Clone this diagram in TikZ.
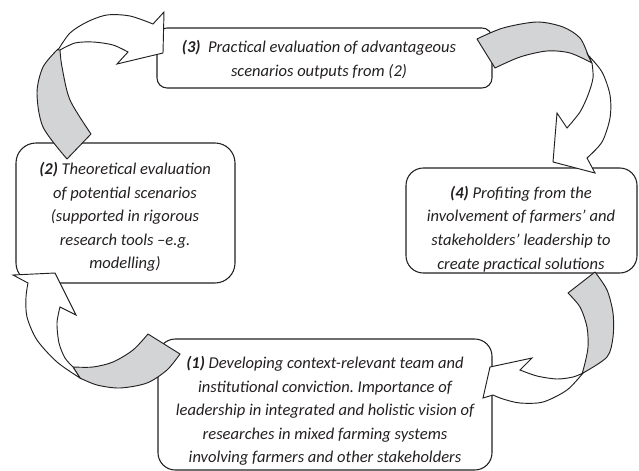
\documentclass[tikz,border=0pt]{standalone}
\usepackage{fontspec}
\setmainfont{Carlito}
\frenchspacing
\usetikzlibrary{fit}
\definecolor{inkgray}{RGB}{35,31,32}
\definecolor{bandgray}{RGB}{211,212,214}

\begin{document}
\begin{tikzpicture}[x=0.75pt, y=-0.75pt,
    stagebox/.style={draw=inkgray, line width=0.8pt, inner sep=0pt},
    stagetext/.style={text=inkgray, align=center, inner sep=0pt,
      font=\itshape\fontsize{12.4}{17.7}\selectfont},
    bandback/.style={draw=inkgray, line width=0.7pt, fill=bandgray, line join=round},
    bandfront/.style={draw=inkgray, line width=0.7pt, fill=white, line join=miter}]
		\useasboundingbox (0,0) rectangle (639,471);

		% stages
		\node[stagebox, rounded corners=7.5pt, fit={(157,28) (492,88)}] (b3) {};
		\node[stagebox, rounded corners=15pt, fit={(16,143) (235,283)}] (b2) {};
		\node[stagebox, rounded corners=13pt, fit={(406,168) (637,273)}] (b4) {};
		\node[stagebox, rounded corners=13pt, fit={(158,339) (492,470)}] (b1) {};

		\node[stagetext] (t3) at (319,60) {\textbf{(3)}\ \ Practical evaluation of advantageous\\scenarios outputs from (2)};
		\node[stagetext] (t2) at (125,217) {\textbf{(2)} Theoretical evaluation\\of potential scenarios\\(supported in rigorous\\research tools –e.g.\\modelling)};
		\node[stagetext] (t4) at (521,229) {\textbf{(4)} Profiting from the\\involvement of farmers’ and\\stakeholders’ leadership to\\create practical solutions};
		\node[stagetext] (t1) at (325,411) {\textbf{(1)} Developing context-relevant team and\\institutional conviction. Importance of\\leadership in integrated and holistic vision of\\researches in mixed farming systems\\involving farmers and other stakeholders};

		% (2) to (3)
		\filldraw[bandback] (67,159) -- plot[smooth] coordinates {(67,159) (43,127) (37,93) (43,67) (58,49)}
			-- plot[smooth] coordinates {(60,50) (62,67) (70,100) (91,134)} -- cycle;
		\filldraw[bandfront] plot[smooth] coordinates {(58,50) (70,33) (87,22) (107,15) (130,16) (153,24)}
			-- (164,12) -- (163,53) -- (117,64) -- (128,52)
			-- plot[smooth] coordinates {(128,52) (113,45) (93,42) (75,43) (60,50)} -- cycle;

		% (3) to (4)
		\filldraw[bandback] plot[smooth] coordinates {(477,39) (503,28) (537,22) (563,27) (580,38) (588,55)}
			-- plot[smooth] coordinates {(592,63) (570,53) (547,51) (520,57) (495,68)} -- cycle;
		\filldraw[bandfront] plot[smooth] coordinates {(588,55) (602,72) (610,95) (610,118) (602,142) (587,158)}
			-- (595,173) -- (553,162) -- (557,113) -- (567,128)
			-- plot[smooth] coordinates {(567,128) (580,112) (588,95) (593,78) (592,63)} -- cycle;

		% (4) to (1)
		\filldraw[bandback] plot[smooth] coordinates {(595,272) (607,290) (613,313) (613,337) (607,357) (583,373)}
			-- plot[smooth] coordinates {(582,374) (585,363) (588,347) (587,327) (580,307) (568,293)} -- cycle;
		\filldraw[bandfront] plot[smooth] coordinates {(583,373) (567,390) (543,402) (520,403) (503,399) (493,395)}
			-- (483,398) -- (490,367) -- (532,358) -- (520,370)
			-- plot[smooth] coordinates {(520,370) (537,376) (557,379) (573,377) (583,373)} -- cycle;

		% (1) to (2)
		\filldraw[bandback] plot[smooth] coordinates {(148,334) (133,350) (113,362) (93,367) (73,367)}
			-- plot[smooth] coordinates {(80,378) (97,385) (120,388) (147,383) (167,370) (180,354)} -- cycle;
		\filldraw[bandfront] plot[smooth] coordinates {(80,378) (57,362) (37,340) (27,317) (26,297) (28,283)}
			-- (13,275) -- (55,273) -- (76,315) -- (60,307)
			-- plot[smooth] coordinates {(60,307) (57,323) (59,343) (65,358) (73,367)} -- cycle;
	\end{tikzpicture}
\end{document}
